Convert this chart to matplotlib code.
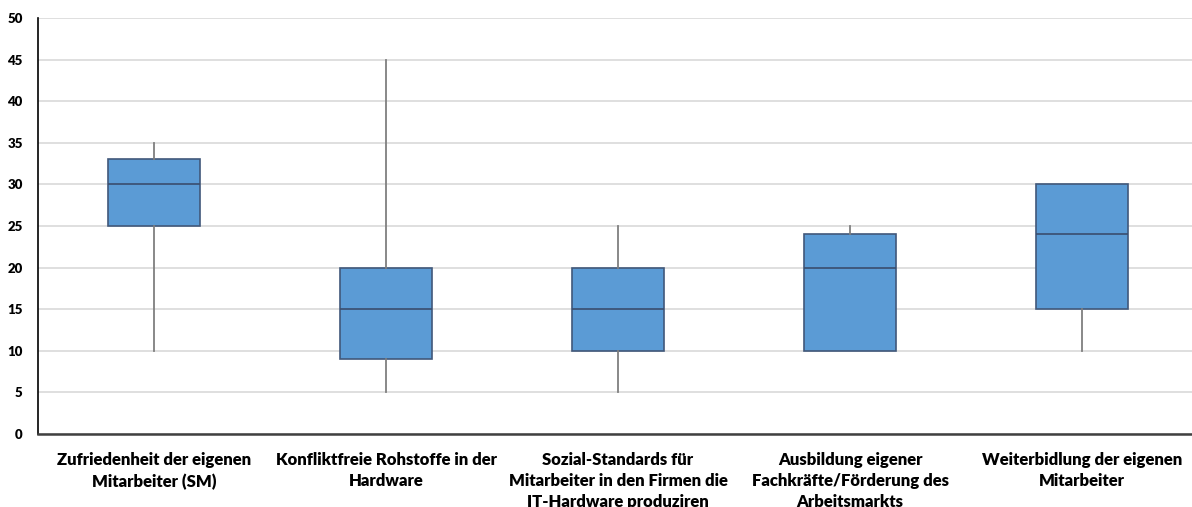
import matplotlib
matplotlib.use("Agg")
import matplotlib.pyplot as plt

categories = [
    "Zufriedenheit der eigenen\nMitarbeiter (SM)",
    "Konfliktfreie Rohstoffe in der\nHardware",
    "Sozial-Standards für\nMitarbeiter in den Firmen die\nIT-Hardware produziren",
    "Ausbildung eigener\nFachkräfte/Förderung des\nArbeitsmarkts",
    "Weiterbidlung der eigenen\nMitarbeiter",
]
whisker_low = [10, 5, 5, 10, 10]
q1 = [25, 9, 10, 10, 15]
median = [30, 15, 15, 20, 24]
q3 = [33, 20, 20, 24, 30]
whisker_high = [35, 45, 25, 25, 30]
yticks = list(range(0, 51, 5))

plt.rcParams['font.family'] = ['Lato', 'DejaVu Sans']

fig = plt.figure(figsize=(11.92, 5.07), dpi=100)
W, H = 1192, 507
ax = fig.add_axes([38 / W, 1 - 434 / H, 1160 / W, (434 - 18) / H])

stats = []
for i in range(len(categories)):
    stats.append(dict(whislo=whisker_low[i], q1=q1[i], med=median[i],
                      q3=q3[i], whishi=whisker_high[i], fliers=[]))

ax.bxp(stats, positions=range(len(categories)), widths=0.4, patch_artist=True,
       showcaps=False, showfliers=False,
       boxprops=dict(facecolor="#5B9BD5", edgecolor="#41587A", linewidth=1.2),
       medianprops=dict(color="#3A4E6E", linewidth=1.2),
       whiskerprops=dict(color="#7F7F7F", linewidth=1.3))

ax.set_xlim(-0.5, len(categories) - 0.5)
ax.set_ylim(0, 50)
ax.set_yticks(yticks)
ax.set_yticklabels([str(v) for v in yticks], fontsize=9.5, fontweight="heavy")
ax.set_xticks(range(len(categories)))
ax.set_xticklabels(categories, fontsize=12, fontweight="heavy", linespacing=1.4)
ax.tick_params(axis="both", length=0)
ax.tick_params(axis="x", pad=13)
ax.tick_params(axis="y", pad=11)
ax.yaxis.grid(True, color="#D9D9D9", linewidth=1.2)
ax.set_axisbelow(True)
for s in ["top", "right"]:
    ax.spines[s].set_visible(False)
ax.spines["left"].set_color("black")
ax.spines["left"].set_linewidth(1.2)
ax.spines["bottom"].set_color("#404040")
ax.spines["bottom"].set_linewidth(1.8)

fig.savefig("out.png", dpi=100)
